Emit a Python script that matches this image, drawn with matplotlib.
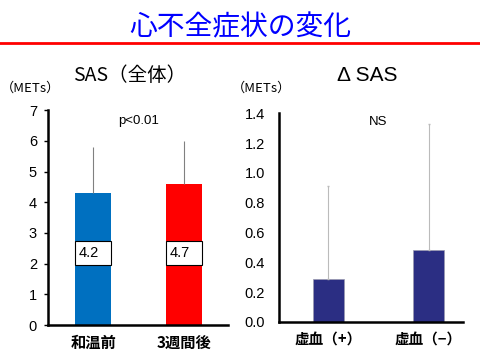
import matplotlib
matplotlib.use("Agg")
import matplotlib.pyplot as plt
from matplotlib.patches import Rectangle

plt.rcParams['font.family'] = ['Liberation Sans', 'Noto Sans CJK JP', 'DejaVu Sans']

# データ
sas_labels = ['和温前', '3週間後']
sas_means = [4.3, 4.6]
sas_sd = [1.5, 1.4]
sas_box_text = ['4.2', '4.7']
sas_colors = ['#0070C0', '#FF0000']

dsas_labels = ['虚血（+）', '虚血（−）']
dsas_means = [0.29, 0.48]
dsas_sd = [0.625, 0.85]

jp = ['Noto Sans CJK JP', 'DejaVu Sans']

fig = plt.figure(figsize=(4.8, 3.6), dpi=100)

# タイトルと赤線
fig.text(0.5, 0.925, '心不全症状の変化', color='#0000FF', fontsize=20,
         ha='center', va='center', family=jp)
fig.add_artist(plt.Line2D([0, 1], [0.881, 0.881], color='#FF0000', lw=2))

# 左: SAS(全体)
ax1 = fig.add_axes([0.1, 0.097, 0.375, 0.597])
x1 = range(len(sas_means))
bars = ax1.bar(x1, sas_means, width=0.4, color=sas_colors)
ax1.errorbar(x1, sas_means, yerr=[[0, 0], sas_sd], fmt='none',
             ecolor='#808080', elinewidth=0.8, capsize=0)
for b, t in zip(bars, sas_box_text):
    ax1.add_patch(Rectangle((b.get_x(), 1.95), b.get_width(), 0.8,
                            facecolor='white', edgecolor='black', lw=0.8, zorder=3))
    ax1.text(b.get_x() + 0.04, 2.35, t, fontsize=10.5, va='center', ha='left', zorder=4)
ax1.set_xlim(-0.495, 1.48)
ax1.set_ylim(0, 7)
ax1.set_yticks(range(0, 8))
ax1.set_xticks(list(x1))
ax1.set_xticklabels(sas_labels, family=jp, fontweight='bold', fontsize=11)
ax1.tick_params(axis='x', length=0, pad=7)
ax1.tick_params(axis='y', length=3, width=1, labelsize=10.5, direction='out', pad=5)
ax1.text(0.5, 6.65, 'p<0.01', fontsize=9.5, ha='center', va='center')

# 右: ΔSAS
ax2 = fig.add_axes([0.581, 0.1056, 0.383, 0.58])
x2 = range(len(dsas_means))
ax2.bar(x2, dsas_means, width=0.31, color='#2B2E83', edgecolor='#9A9AB0', lw=0.5)
ax2.errorbar(x2, dsas_means, yerr=[[0, 0], dsas_sd], fmt='none',
             ecolor='#BBBBBB', elinewidth=0.8, capsize=1)
ax2.set_xlim(-0.49, 1.34)
ax2.set_ylim(0, 1.4)
ax2.set_yticks([0.0, 0.2, 0.4, 0.6, 0.8, 1.0, 1.2, 1.4])
ax2.set_yticklabels(['0.0', '0.2', '0.4', '0.6', '0.8', '1.0', '1.2', '1.4'])
ax2.set_xticks(list(x2))
ax2.set_xticklabels(dsas_labels, family=jp, fontweight='bold', fontsize=10.5)
ax2.tick_params(axis='x', length=0, pad=7)
ax2.tick_params(axis='y', length=0, labelsize=10.5, pad=10)
ax2.text(0.5, 1.34, 'NS', fontsize=9.5, ha='center', va='center')

for ax in (ax1, ax2):
    ax.spines['top'].set_visible(False)
    ax.spines['right'].set_visible(False)
    ax.spines['left'].set_linewidth(1.8)
    ax.spines['bottom'].set_linewidth(1.8)

# サブタイトルと単位
fig.text(0.27, 0.79, 'SAS（全体）', fontsize=14, ha='center', va='center', family=jp)
fig.text(0.765, 0.79, 'Δ SAS', fontsize=15, ha='center', va='center')
fig.text(0.063, 0.755, '（METs）', fontsize=9.5, ha='center', va='center', family=jp)
fig.text(0.545, 0.755, '（METs）', fontsize=9.5, ha='center', va='center', family=jp)

fig.savefig('out.png', dpi=100)
